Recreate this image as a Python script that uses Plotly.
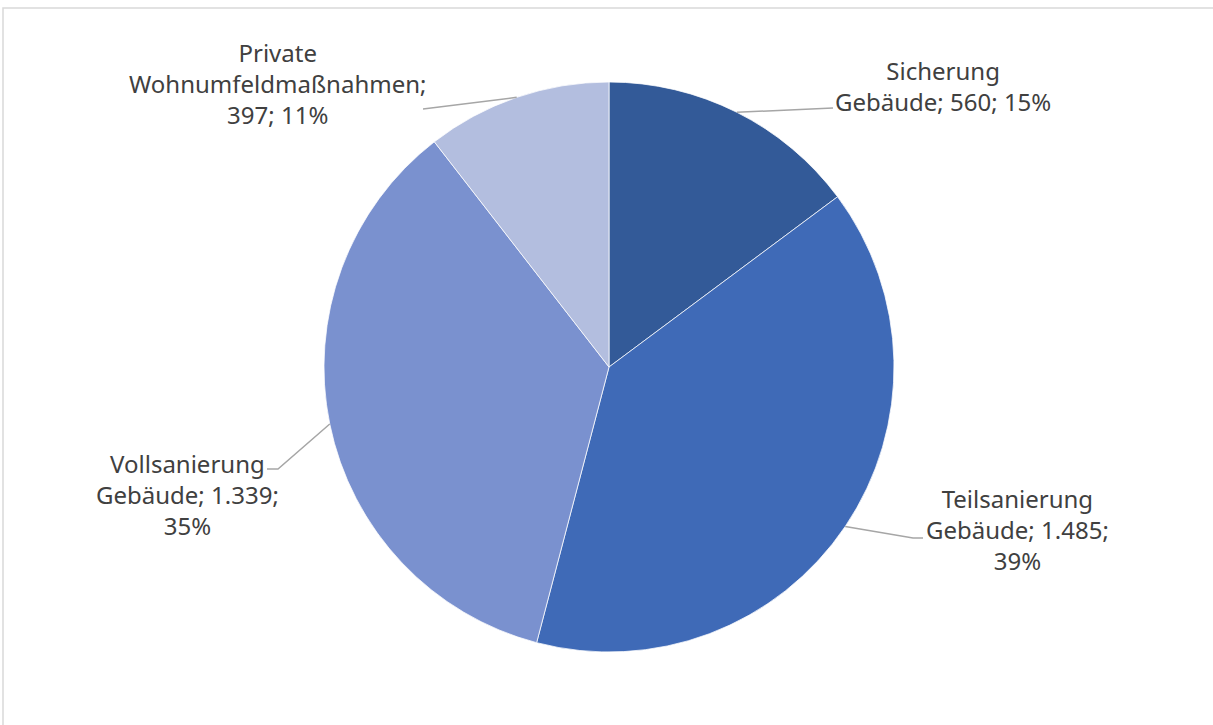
import math
import plotly.graph_objects as go

W, H = 1213, 725

# data
labels = ["Sicherung Gebäude", "Teilsanierung Gebäude", "Vollsanierung Gebäude", "Private Wohnumfeldmaßnahmen"]
label_text = ["Sicherung<br>Gebäude; 560; 15%",
              "Teilsanierung<br>Gebäude; 1.485;<br>39%",
              "Vollsanierung<br>Gebäude; 1.339;<br>35%",
              "Private<br>Wohnumfeldmaßnahmen;<br>397; 11%"]
values = [560, 1485, 1339, 397]
colors = ["#335A98", "#3F6AB7", "#7A91CF", "#B3BEDF"]

# layout of the pie (pixels)
cx, cy, r = 609, 367, 285
# where the labels sit and where the leader lines end (pixels)
label_pos = [(943, 86), (1017, 529), (187, 494), (277, 83)]
line_end = [(833, 108), (923, 538), (267, 469), (423, 109)]
line_knee = [None, (913, 538), (278, 469), None]


def px(x):
    return x / W


def py(y):
    return 1 - y / H


fig = go.Figure(go.Pie(
    labels=labels,
    values=values,
    sort=False,
    direction="clockwise",
    rotation=0,
    marker=dict(colors=colors, line=dict(color="white", width=0.75)),
    textinfo="none",
    hoverinfo="label+value+percent",
    showlegend=False,
    domain=dict(x=[px(cx - r), px(cx + r)], y=[py(cy + r), py(cy - r)]),
))

total = sum(values)
shapes = []
annotations = []
cum = 0
for i, v in enumerate(values):
    # leader line starts on the rim at the middle of the slice
    mid = (cum + v / 2) / total * 2 * math.pi
    cum += v
    sx = cx + r * math.sin(mid)
    sy = cy - r * math.cos(mid)
    pts = [(sx, sy)]
    if line_knee[i]:
        pts.append(line_knee[i])
    pts.append(line_end[i])
    path = "M " + " L ".join(f"{px(x)},{py(y)}" for x, y in pts)
    shapes.append(dict(type="path", path=path, xref="paper", yref="paper",
                       line=dict(color="#A6A6A6", width=1.5)))
    lx, ly = label_pos[i]
    annotations.append(dict(
        x=px(lx), y=py(ly), xref="paper", yref="paper",
        text=label_text[i], showarrow=False, align="center",
        xanchor="center", yanchor="middle",
        font=dict(family="Noto Sans", size=24, color="#404040"),
    ))

# chart border
shapes.append(dict(type="rect", xref="paper", yref="paper",
                   x0=px(3), y0=py(H + 5), x1=px(W + 5), y1=py(8),
                   line=dict(color="#D9D9D9", width=1.5)))

fig.update_layout(
    width=W, height=H,
    margin=dict(l=0, r=0, t=0, b=0),
    paper_bgcolor="white",
    plot_bgcolor="white",
    shapes=shapes,
    annotations=annotations,
)

fig.write_html("out.html",
               config={"displayModeBar": False},
               post_script="document.body.style.margin='0';document.body.style.overflow='hidden';")
